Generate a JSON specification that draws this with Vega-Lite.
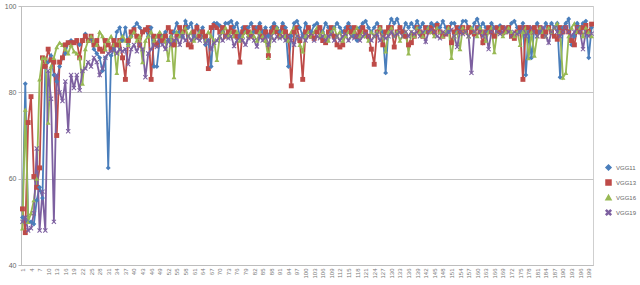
{
"$schema":"https://vega.github.io/schema/vega-lite/v6.json",
"width":572,"height":259,
"autosize":{"type":"none"},
"padding":{"left":21,"top":6,"right":47,"bottom":20},
"config":{"view":{"stroke":"#cfcfcf"},"font":"Liberation Sans"},
"data":{"values":[
{"e":1,"VGG11":51,"VGG13":53,"VGG16":48.5,"VGG19":50},
{"e":2,"VGG11":82,"VGG13":47.5,"VGG16":76,"VGG19":51},
{"e":3,"VGG11":50,"VGG13":73,"VGG16":50,"VGG19":48},
{"e":4,"VGG11":50,"VGG13":79,"VGG16":52,"VGG19":48.5},
{"e":5,"VGG11":49.5,"VGG13":60.5,"VGG16":55,"VGG19":52},
{"e":6,"VGG11":55,"VGG13":58,"VGG16":60,"VGG19":67},
{"e":7,"VGG11":58,"VGG13":62.5,"VGG16":83,"VGG19":48},
{"e":8,"VGG11":55.5,"VGG13":88,"VGG16":88,"VGG19":57},
{"e":9,"VGG11":86,"VGG13":86,"VGG16":88,"VGG19":48},
{"e":10,"VGG11":87,"VGG13":90,"VGG16":73,"VGG19":85},
{"e":11,"VGG11":88.5,"VGG13":87.5,"VGG16":86,"VGG19":78.5},
{"e":12,"VGG11":84,"VGG13":87,"VGG16":88,"VGG19":50},
{"e":13,"VGG11":82.5,"VGG13":70,"VGG16":90.5,"VGG19":84},
{"e":14,"VGG11":86,"VGG13":87,"VGG16":91.5,"VGG19":80},
{"e":15,"VGG11":88,"VGG13":88,"VGG16":91,"VGG19":78},
{"e":16,"VGG11":89,"VGG13":91,"VGG16":90,"VGG19":82.5},
{"e":17,"VGG11":91.5,"VGG13":91.5,"VGG16":89,"VGG19":71},
{"e":18,"VGG11":92,"VGG13":91.5,"VGG16":91,"VGG19":84},
{"e":19,"VGG11":91.5,"VGG13":91.5,"VGG16":89.5,"VGG19":81},
{"e":20,"VGG11":92,"VGG13":92,"VGG16":89,"VGG19":84},
{"e":21,"VGG11":91,"VGG13":88,"VGG16":88,"VGG19":80.5},
{"e":22,"VGG11":92,"VGG13":92,"VGG16":82,"VGG19":85},
{"e":23,"VGG11":93.5,"VGG13":93,"VGG16":90,"VGG19":85.5},
{"e":24,"VGG11":92,"VGG13":92,"VGG16":92,"VGG19":87},
{"e":25,"VGG11":92.5,"VGG13":93,"VGG16":93,"VGG19":86},
{"e":26,"VGG11":90,"VGG13":91,"VGG16":92,"VGG19":88},
{"e":27,"VGG11":89,"VGG13":92,"VGG16":91,"VGG19":87},
{"e":28,"VGG11":88,"VGG13":90,"VGG16":94,"VGG19":84},
{"e":29,"VGG11":85,"VGG13":89.5,"VGG16":93,"VGG19":85.5},
{"e":30,"VGG11":88,"VGG13":92,"VGG16":90,"VGG19":88},
{"e":31,"VGG11":62.5,"VGG13":91,"VGG16":92,"VGG19":89},
{"e":32,"VGG11":88.5,"VGG13":90,"VGG16":93,"VGG19":89.5},
{"e":33,"VGG11":90,"VGG13":92,"VGG16":91,"VGG19":90},
{"e":34,"VGG11":94,"VGG13":91,"VGG16":84.5,"VGG19":89},
{"e":35,"VGG11":95,"VGG13":92,"VGG16":92,"VGG19":90},
{"e":36,"VGG11":92,"VGG13":88,"VGG16":93,"VGG19":89.5},
{"e":37,"VGG11":95,"VGG13":83,"VGG16":92,"VGG19":90},
{"e":38,"VGG11":91,"VGG13":92,"VGG16":91,"VGG19":86.5},
{"e":39,"VGG11":93,"VGG13":94,"VGG16":93,"VGG19":90},
{"e":40,"VGG11":95,"VGG13":94.5,"VGG16":94,"VGG19":91},
{"e":41,"VGG11":96,"VGG13":93,"VGG16":92,"VGG19":89.5},
{"e":42,"VGG11":95,"VGG13":91,"VGG16":93,"VGG19":91},
{"e":43,"VGG11":94,"VGG13":94,"VGG16":87,"VGG19":90},
{"e":44,"VGG11":94.5,"VGG13":94.5,"VGG16":92,"VGG19":83.5},
{"e":45,"VGG11":93,"VGG13":95,"VGG16":93,"VGG19":89},
{"e":46,"VGG11":95,"VGG13":83,"VGG16":94,"VGG19":90},
{"e":47,"VGG11":86,"VGG13":93,"VGG16":92,"VGG19":91},
{"e":48,"VGG11":86,"VGG13":91,"VGG16":93,"VGG19":90.5},
{"e":49,"VGG11":92,"VGG13":93,"VGG16":94,"VGG19":92},
{"e":50,"VGG11":93,"VGG13":92,"VGG16":93,"VGG19":91},
{"e":51,"VGG11":94,"VGG13":93,"VGG16":92,"VGG19":90},
{"e":52,"VGG11":92,"VGG13":95,"VGG16":87.5,"VGG19":92},
{"e":53,"VGG11":93,"VGG13":94,"VGG16":93,"VGG19":91},
{"e":54,"VGG11":94,"VGG13":91,"VGG16":83.5,"VGG19":92},
{"e":55,"VGG11":96,"VGG13":93,"VGG16":94,"VGG19":92.5},
{"e":56,"VGG11":94,"VGG13":95,"VGG16":93,"VGG19":91},
{"e":57,"VGG11":93,"VGG13":94,"VGG16":94,"VGG19":93},
{"e":58,"VGG11":96.5,"VGG13":95,"VGG16":95,"VGG19":92},
{"e":59,"VGG11":95,"VGG13":91,"VGG16":93,"VGG19":93},
{"e":60,"VGG11":96,"VGG13":90.5,"VGG16":94,"VGG19":92},
{"e":61,"VGG11":93,"VGG13":94,"VGG16":92,"VGG19":93},
{"e":62,"VGG11":95.5,"VGG13":95,"VGG16":93,"VGG19":92.5},
{"e":63,"VGG11":94,"VGG13":93,"VGG16":94,"VGG19":92},
{"e":64,"VGG11":95,"VGG13":94,"VGG16":93,"VGG19":93},
{"e":65,"VGG11":91,"VGG13":93,"VGG16":92,"VGG19":91.5},
{"e":66,"VGG11":92,"VGG13":85.5,"VGG16":94,"VGG19":92},
{"e":67,"VGG11":86,"VGG13":95,"VGG16":93,"VGG19":90},
{"e":68,"VGG11":96,"VGG13":95.5,"VGG16":92,"VGG19":91.5},
{"e":69,"VGG11":96,"VGG13":95,"VGG16":87.5,"VGG19":92},
{"e":70,"VGG11":95.5,"VGG13":94,"VGG16":93,"VGG19":93},
{"e":71,"VGG11":94,"VGG13":95,"VGG16":94,"VGG19":92},
{"e":72,"VGG11":96,"VGG13":93,"VGG16":95,"VGG19":93},
{"e":73,"VGG11":96,"VGG13":94,"VGG16":93,"VGG19":92.5},
{"e":74,"VGG11":96.5,"VGG13":95,"VGG16":94,"VGG19":93},
{"e":75,"VGG11":95,"VGG13":94,"VGG16":93,"VGG19":90.7},
{"e":76,"VGG11":96,"VGG13":93,"VGG16":94,"VGG19":92},
{"e":77,"VGG11":93,"VGG13":87,"VGG16":92,"VGG19":93},
{"e":78,"VGG11":95,"VGG13":94,"VGG16":93,"VGG19":92},
{"e":79,"VGG11":94,"VGG13":95,"VGG16":94,"VGG19":91},
{"e":80,"VGG11":95,"VGG13":94,"VGG16":93,"VGG19":92.5},
{"e":81,"VGG11":96,"VGG13":93,"VGG16":94,"VGG19":93},
{"e":82,"VGG11":94,"VGG13":95,"VGG16":93,"VGG19":92},
{"e":83,"VGG11":95,"VGG13":94,"VGG16":92,"VGG19":90.6},
{"e":84,"VGG11":96,"VGG13":95,"VGG16":94,"VGG19":93},
{"e":85,"VGG11":94,"VGG13":93,"VGG16":93,"VGG19":92},
{"e":86,"VGG11":95,"VGG13":94,"VGG16":92,"VGG19":93},
{"e":87,"VGG11":93,"VGG13":88.5,"VGG16":88,"VGG19":91},
{"e":88,"VGG11":95,"VGG13":94,"VGG16":93,"VGG19":93},
{"e":89,"VGG11":96,"VGG13":95,"VGG16":94,"VGG19":92},
{"e":90,"VGG11":95,"VGG13":94,"VGG16":95,"VGG19":93},
{"e":91,"VGG11":94,"VGG13":93,"VGG16":93,"VGG19":92.5},
{"e":92,"VGG11":96,"VGG13":95,"VGG16":94,"VGG19":93},
{"e":93,"VGG11":95,"VGG13":94,"VGG16":93,"VGG19":92},
{"e":94,"VGG11":86,"VGG13":93,"VGG16":92,"VGG19":93},
{"e":95,"VGG11":93,"VGG13":81.5,"VGG16":94,"VGG19":92},
{"e":96,"VGG11":96,"VGG13":94,"VGG16":95,"VGG19":91},
{"e":97,"VGG11":96.5,"VGG13":95,"VGG16":93,"VGG19":93},
{"e":98,"VGG11":95,"VGG13":92,"VGG16":91,"VGG19":92.5},
{"e":99,"VGG11":93,"VGG13":83,"VGG16":89.5,"VGG19":93},
{"e":100,"VGG11":96,"VGG13":94,"VGG16":93,"VGG19":92},
{"e":101,"VGG11":95,"VGG13":95,"VGG16":94,"VGG19":93},
{"e":102,"VGG11":94,"VGG13":93,"VGG16":93,"VGG19":93.5},
{"e":103,"VGG11":95.5,"VGG13":92.5,"VGG16":94,"VGG19":92},
{"e":104,"VGG11":96,"VGG13":94,"VGG16":95,"VGG19":93},
{"e":105,"VGG11":95,"VGG13":95,"VGG16":93,"VGG19":92.5},
{"e":106,"VGG11":94,"VGG13":92,"VGG16":94,"VGG19":93},
{"e":107,"VGG11":96,"VGG13":91.5,"VGG16":93,"VGG19":92},
{"e":108,"VGG11":95,"VGG13":94,"VGG16":92,"VGG19":93},
{"e":109,"VGG11":94,"VGG13":95,"VGG16":94,"VGG19":93.5},
{"e":110,"VGG11":95,"VGG13":93,"VGG16":95,"VGG19":92},
{"e":111,"VGG11":96,"VGG13":91,"VGG16":93,"VGG19":93},
{"e":112,"VGG11":95,"VGG13":90.5,"VGG16":94,"VGG19":92},
{"e":113,"VGG11":94,"VGG13":91,"VGG16":92,"VGG19":93},
{"e":114,"VGG11":95,"VGG13":94,"VGG16":93,"VGG19":93.5},
{"e":115,"VGG11":96,"VGG13":95,"VGG16":94,"VGG19":92},
{"e":116,"VGG11":95,"VGG13":94,"VGG16":93,"VGG19":93},
{"e":117,"VGG11":93,"VGG13":95,"VGG16":94,"VGG19":92.5},
{"e":118,"VGG11":92,"VGG13":93,"VGG16":95,"VGG19":93},
{"e":119,"VGG11":95,"VGG13":94,"VGG16":93,"VGG19":92},
{"e":120,"VGG11":96,"VGG13":95,"VGG16":94,"VGG19":93},
{"e":121,"VGG11":96.5,"VGG13":94,"VGG16":93,"VGG19":93.5},
{"e":122,"VGG11":95,"VGG13":93,"VGG16":92,"VGG19":93},
{"e":123,"VGG11":94,"VGG13":90,"VGG16":94,"VGG19":92},
{"e":124,"VGG11":95,"VGG13":86.5,"VGG16":93,"VGG19":93},
{"e":125,"VGG11":96,"VGG13":94,"VGG16":94,"VGG19":93.5},
{"e":126,"VGG11":95,"VGG13":95,"VGG16":95,"VGG19":92},
{"e":127,"VGG11":94,"VGG13":91,"VGG16":93,"VGG19":93},
{"e":128,"VGG11":84.5,"VGG13":94,"VGG16":89.5,"VGG19":92.5},
{"e":129,"VGG11":95,"VGG13":95,"VGG16":94,"VGG19":93},
{"e":130,"VGG11":97,"VGG13":95,"VGG16":95,"VGG19":94},
{"e":131,"VGG11":96,"VGG13":90.5,"VGG16":93,"VGG19":93},
{"e":132,"VGG11":97,"VGG13":94,"VGG16":94,"VGG19":93.5},
{"e":133,"VGG11":95,"VGG13":95,"VGG16":92,"VGG19":94},
{"e":134,"VGG11":94,"VGG13":94,"VGG16":93,"VGG19":93},
{"e":135,"VGG11":96,"VGG13":93,"VGG16":94,"VGG19":94},
{"e":136,"VGG11":95,"VGG13":91,"VGG16":89,"VGG19":93},
{"e":137,"VGG11":96,"VGG13":91.5,"VGG16":94,"VGG19":94},
{"e":138,"VGG11":95,"VGG13":93,"VGG16":93,"VGG19":93.5},
{"e":139,"VGG11":96.5,"VGG13":95,"VGG16":95,"VGG19":94},
{"e":140,"VGG11":95,"VGG13":94,"VGG16":94,"VGG19":93},
{"e":141,"VGG11":96,"VGG13":93,"VGG16":93,"VGG19":94},
{"e":142,"VGG11":94,"VGG13":95,"VGG16":94,"VGG19":91.7},
{"e":143,"VGG11":95,"VGG13":94,"VGG16":95,"VGG19":94},
{"e":144,"VGG11":96,"VGG13":95,"VGG16":94,"VGG19":94.5},
{"e":145,"VGG11":95.5,"VGG13":94,"VGG16":93,"VGG19":94},
{"e":146,"VGG11":96,"VGG13":95.5,"VGG16":95,"VGG19":93},
{"e":147,"VGG11":95,"VGG13":94,"VGG16":94,"VGG19":92.5},
{"e":148,"VGG11":96.5,"VGG13":93,"VGG16":93,"VGG19":94},
{"e":149,"VGG11":95,"VGG13":93.5,"VGG16":94,"VGG19":93.5},
{"e":150,"VGG11":94,"VGG13":95,"VGG16":95,"VGG19":94},
{"e":151,"VGG11":96,"VGG13":91.5,"VGG16":88,"VGG19":94.5},
{"e":152,"VGG11":96,"VGG13":94,"VGG16":93,"VGG19":93},
{"e":153,"VGG11":94,"VGG13":95,"VGG16":94,"VGG19":90.5},
{"e":154,"VGG11":95,"VGG13":94,"VGG16":90,"VGG19":94},
{"e":155,"VGG11":96.5,"VGG13":95,"VGG16":95,"VGG19":93.5},
{"e":156,"VGG11":96.5,"VGG13":94,"VGG16":94,"VGG19":94},
{"e":157,"VGG11":95,"VGG13":95,"VGG16":93,"VGG19":93},
{"e":158,"VGG11":94,"VGG13":94,"VGG16":95,"VGG19":84.5},
{"e":159,"VGG11":96,"VGG13":93.5,"VGG16":94,"VGG19":94},
{"e":160,"VGG11":97,"VGG13":95,"VGG16":93,"VGG19":95},
{"e":161,"VGG11":95,"VGG13":94,"VGG16":95,"VGG19":94},
{"e":162,"VGG11":96,"VGG13":91.5,"VGG16":94,"VGG19":93},
{"e":163,"VGG11":95,"VGG13":94,"VGG16":92,"VGG19":94},
{"e":164,"VGG11":94,"VGG13":95,"VGG16":94,"VGG19":90},
{"e":165,"VGG11":96,"VGG13":94,"VGG16":95,"VGG19":94},
{"e":166,"VGG11":95,"VGG13":93,"VGG16":89.3,"VGG19":95},
{"e":167,"VGG11":94,"VGG13":95,"VGG16":94,"VGG19":94},
{"e":168,"VGG11":95.5,"VGG13":94,"VGG16":95,"VGG19":93.5},
{"e":169,"VGG11":95,"VGG13":95,"VGG16":93,"VGG19":94},
{"e":170,"VGG11":94,"VGG13":94,"VGG16":94,"VGG19":95},
{"e":171,"VGG11":95,"VGG13":95,"VGG16":95,"VGG19":94},
{"e":172,"VGG11":96,"VGG13":93,"VGG16":94,"VGG19":93},
{"e":173,"VGG11":96.5,"VGG13":92.5,"VGG16":93,"VGG19":94},
{"e":174,"VGG11":95,"VGG13":94,"VGG16":94,"VGG19":93.5},
{"e":175,"VGG11":94,"VGG13":95,"VGG16":91,"VGG19":94},
{"e":176,"VGG11":96,"VGG13":83,"VGG16":94,"VGG19":95},
{"e":177,"VGG11":84,"VGG13":95,"VGG16":95,"VGG19":93},
{"e":178,"VGG11":94,"VGG13":95,"VGG16":87.9,"VGG19":94},
{"e":179,"VGG11":88,"VGG13":94,"VGG16":94,"VGG19":95},
{"e":180,"VGG11":95,"VGG13":95,"VGG16":88.5,"VGG19":94},
{"e":181,"VGG11":96,"VGG13":94,"VGG16":93,"VGG19":93},
{"e":182,"VGG11":94,"VGG13":95,"VGG16":95,"VGG19":94},
{"e":183,"VGG11":93,"VGG13":93,"VGG16":94,"VGG19":95},
{"e":184,"VGG11":96,"VGG13":94,"VGG16":93,"VGG19":93},
{"e":185,"VGG11":95,"VGG13":95,"VGG16":95,"VGG19":91.5},
{"e":186,"VGG11":96,"VGG13":94,"VGG16":94,"VGG19":94},
{"e":187,"VGG11":95,"VGG13":93,"VGG16":95,"VGG19":95},
{"e":188,"VGG11":96,"VGG13":92.3,"VGG16":96,"VGG19":94},
{"e":189,"VGG11":83.5,"VGG13":95,"VGG16":94,"VGG19":93},
{"e":190,"VGG11":95,"VGG13":94,"VGG16":83.4,"VGG19":94},
{"e":191,"VGG11":96,"VGG13":95,"VGG16":84.5,"VGG19":95},
{"e":192,"VGG11":97,"VGG13":94,"VGG16":93,"VGG19":94},
{"e":193,"VGG11":91,"VGG13":92,"VGG16":95,"VGG19":93},
{"e":194,"VGG11":93,"VGG13":91,"VGG16":96,"VGG19":94},
{"e":195,"VGG11":96,"VGG13":95,"VGG16":94,"VGG19":95},
{"e":196,"VGG11":95,"VGG13":94,"VGG16":95,"VGG19":94},
{"e":197,"VGG11":96,"VGG13":95,"VGG16":93,"VGG19":90},
{"e":198,"VGG11":96.5,"VGG13":95.5,"VGG16":95,"VGG19":94},
{"e":199,"VGG11":88,"VGG13":94,"VGG16":94,"VGG19":93},
{"e":200,"VGG11":95,"VGG13":95.8,"VGG16":93,"VGG19":93.6}
]},
"transform":[{"fold":["VGG11","VGG13","VGG16","VGG19"],"as":["series","acc"]}],
"mark":{"type":"line","strokeWidth":1.8,"point":{"filled":true,"size":24}},
"encoding":{
"x":{"field":"e","type":"ordinal","axis":{"title":null,"labelAngle":-90,"labelAlign":"right","labelBaseline":"middle","labelFontSize":6,"labelColor":"#777","ticks":false,"labelPadding":3,"domainColor":"#bdbdbd","labelOverlap":false,"labelExpr":"datum.value % 3 == 1 ? datum.label : ''"}},
"y":{"field":"acc","type":"quantitative","scale":{"domain":[40,100]},"axis":{"title":null,"values":[40,60,80,100],"labelFontSize":7,"labelColor":"#666","tickSize":3,"tickColor":"#bdbdbd","labelPadding":2,"domainColor":"#bdbdbd","gridColor":"#c4c4c4"}},
"color":{"field":"series","type":"nominal","scale":{"domain":["VGG11","VGG13","VGG16","VGG19"],"range":["#4a7ebb","#be4b48","#98b954","#7d60a0"]},"legend":{"title":null,"orient":"none","legendX":584,"legendY":158,"labelFontSize":6,"labelColor":"#666","symbolSize":25,"rowPadding":4,"labelOffset":4}},
"shape":{"field":"series","type":"nominal","scale":{"domain":["VGG11","VGG13","VGG16","VGG19"],"range":["diamond","square","triangle-up","M-1,-0.7L-0.7,-1L0,-0.3L0.7,-1L1,-0.7L0.3,0L1,0.7L0.7,1L0,0.3L-0.7,1L-1,0.7L-0.3,0Z"]},"legend":{"title":null,"orient":"none","legendX":584,"legendY":158}}
}
}
